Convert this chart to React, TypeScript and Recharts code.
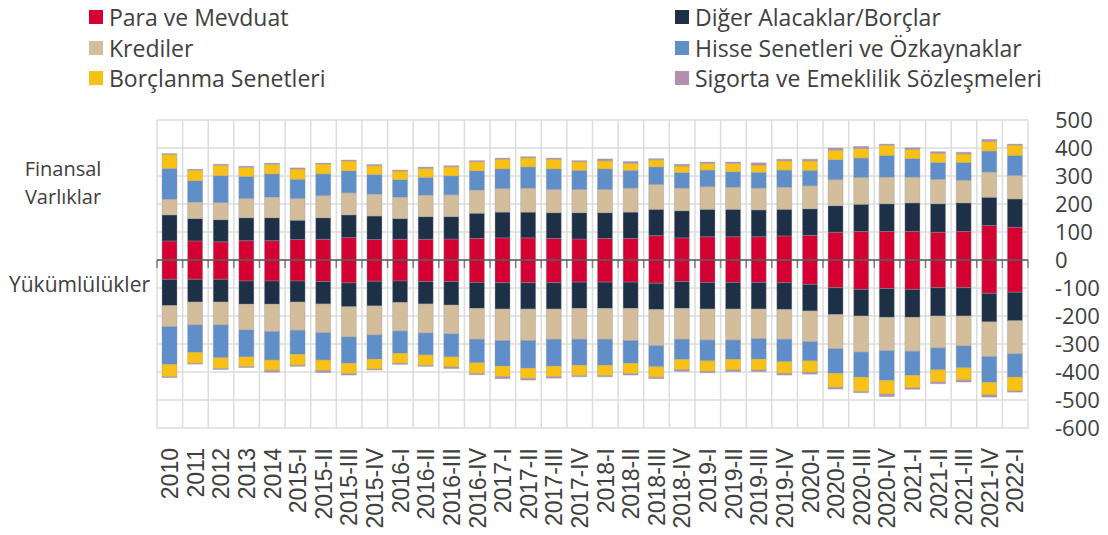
import React from "react";
import { BarChart, Bar, XAxis, YAxis, CartesianGrid, ReferenceLine } from "recharts";

const categories = [
  "2010", "2011", "2012", "2013", "2014", "2015-I", "2015-II", "2015-III", "2015-IV",
  "2016-I", "2016-II", "2016-III", "2016-IV", "2017-I", "2017-II", "2017-III", "2017-IV",
  "2018-I", "2018-II", "2018-III", "2018-IV", "2019-I", "2019-II", "2019-III", "2019-IV",
  "2020-I", "2020-II", "2020-III", "2020-IV", "2021-I", "2021-II", "2021-III", "2021-IV", "2022-I",
];

// Finansal varlıklar (positive)
const assetPara = [68, 68, 65, 69, 69, 73, 74, 80, 73, 74, 74, 75, 77, 79, 79, 77, 75, 77, 77, 87, 79, 83, 83, 83, 86, 88, 99, 102, 102, 102, 99, 102, 123, 117];
const assetDiger = [93, 80, 79, 82, 82, 69, 77, 81, 84, 74, 81, 80, 90, 92, 92, 92, 94, 92, 94, 94, 97, 98, 98, 96, 95, 95, 95, 97, 99, 102, 102, 102, 101, 101];
const assetKredi = [56, 59, 61, 69, 74, 78, 79, 79, 78, 77, 77, 78, 83, 84, 86, 83, 83, 83, 86, 89, 81, 81, 79, 78, 79, 82, 93, 96, 95, 92, 87, 81, 90, 84];
const assetHisse = [110, 76, 96, 78, 82, 68, 77, 78, 70, 62, 63, 67, 68, 70, 75, 73, 68, 73, 63, 62, 55, 59, 55, 56, 61, 55, 71, 69, 77, 66, 60, 63, 75, 71];
const assetBorc = [50, 38, 37, 33, 35, 37, 36, 36, 32, 31, 32, 33, 33, 35, 33, 35, 31, 29, 25, 26, 24, 24, 30, 26, 33, 34, 34, 34, 37, 33, 33, 31, 34, 37];
const assetSigorta = [3, 3, 4, 4, 4, 4, 3, 3, 4, 3, 5, 4, 4, 4, 4, 4, 4, 7, 7, 4, 6, 5, 5, 8, 6, 6, 8, 8, 4, 6, 6, 6, 8, 4];

// Yükümlülükler (negative)
const liabPara = [-69, -69, -69, -75, -75, -75, -77, -82, -76, -75, -77, -77, -80, -81, -81, -81, -79, -79, -79, -83, -77, -80, -80, -80, -81, -87, -99, -105, -102, -105, -99, -99, -119, -115];
const liabDiger = [-94, -81, -81, -83, -83, -75, -80, -85, -88, -77, -80, -84, -93, -94, -94, -94, -94, -94, -94, -94, -96, -95, -95, -95, -96, -95, -96, -95, -103, -100, -101, -101, -102, -102];
const liabKredi = [-75, -82, -82, -92, -98, -101, -103, -108, -104, -102, -104, -103, -110, -113, -113, -108, -110, -110, -115, -129, -110, -111, -111, -106, -106, -110, -122, -129, -119, -121, -114, -107, -124, -118];
const liabHisse = [-135, -98, -117, -96, -101, -86, -97, -94, -86, -79, -78, -82, -84, -91, -98, -96, -93, -93, -81, -75, -72, -74, -69, -73, -80, -68, -88, -89, -106, -86, -78, -78, -92, -83];
const liabBorc = [-44, -39, -39, -35, -37, -39, -38, -37, -36, -36, -38, -36, -38, -38, -37, -38, -37, -37, -37, -38, -37, -38, -38, -39, -42, -41, -50, -52, -49, -45, -44, -44, -45, -50];
const liabSigorta = [-3, -3, -3, -3, -7, -4, -7, -5, -3, -4, -3, -6, -5, -7, -6, -5, -4, -4, -5, -5, -6, -5, -6, -6, -6, -7, -6, -4, -9, -5, -6, -7, -8, -4];

const yTicks = [500, 400, 300, 200, 100, 0, -100, -200, -300, -400, -500, -600];

const COLORS = {
  para: "#d50032",
  diger: "#1d3045",
  kredi: "#d4bd9a",
  hisse: "#5f8ec8",
  borc: "#f9c113",
  sigorta: "#b48fb0",
};

const data = categories.map((name, i) => ({
  name,
  aPara: assetPara[i],
  aDiger: assetDiger[i],
  aKredi: assetKredi[i],
  aHisse: assetHisse[i],
  aBorc: assetBorc[i],
  aSig: assetSigorta[i],
  lPara: liabPara[i],
  lDiger: liabDiger[i],
  lKredi: liabKredi[i],
  lHisse: liabHisse[i],
  lBorc: liabBorc[i],
  lSig: liabSigorta[i],
}));

const series = [
  { key: "aPara", color: COLORS.para },
  { key: "aDiger", color: COLORS.diger },
  { key: "aKredi", color: COLORS.kredi },
  { key: "aHisse", color: COLORS.hisse },
  { key: "aBorc", color: COLORS.borc },
  { key: "aSig", color: COLORS.sigorta },
  { key: "lPara", color: COLORS.para },
  { key: "lDiger", color: COLORS.diger },
  { key: "lKredi", color: COLORS.kredi },
  { key: "lHisse", color: COLORS.hisse },
  { key: "lBorc", color: COLORS.borc },
  { key: "lSig", color: COLORS.sigorta },
];

const legendLeft = [
  { label: "Para ve Mevduat", color: COLORS.para },
  { label: "Krediler", color: COLORS.kredi },
  { label: "Borçlanma Senetleri", color: COLORS.borc },
];
const legendRight = [
  { label: "Diğer Alacaklar/Borçlar", color: COLORS.diger },
  { label: "Hisse Senetleri ve Özkaynaklar", color: COLORS.hisse },
  { label: "Sigorta ve Emeklilik Sözleşmeleri", color: COLORS.sigorta },
];

const textColor = "#404040";
const font = "'Open Sans', sans-serif";

function LegendColumn({ items, left }: { items: { label: string; color: string }[]; left: number }) {
  return (
    <>
      {items.map((it, i) => (
        <div
          key={it.label}
          style={{
            position: "absolute",
            left,
            top: 2 + i * 30.5,
            height: 30,
            display: "flex",
            alignItems: "center",
            fontFamily: font,
            fontSize: 23,
            color: textColor,
            whiteSpace: "nowrap",
          }}
        >
          <span style={{ width: 14, height: 14, background: it.color, marginRight: 6, display: "inline-block" }} />
          {it.label}
        </div>
      ))}
    </>
  );
}

const XTick = (props: any) => {
  const { x, y, payload } = props;
  return (
    <text
      transform={`translate(${x},${y}) rotate(-90)`}
      textAnchor="end"
      dy="0.36em"
      fontFamily="'Liberation Sans', Arial, sans-serif"
      fontSize={23}
      fill={textColor}
    >
      {payload.value}
    </text>
  );
};

const ZeroLine = (props: any) => {
  const { x1, y1, x2, y2 } = props;
  const n = categories.length;
  const step = (x2 - x1) / n;
  return (
    <g>
      {Array.from({ length: n + 1 }, (_, i) => (
        <line key={i} x1={x1 + i * step} x2={x1 + i * step} y1={y1} y2={y1 + 8} stroke="#7f7f7f" strokeWidth={1.5} />
      ))}
      <line x1={x1} y1={y1} x2={x2} y2={y2} stroke="#595959" strokeWidth={1.5} />
    </g>
  );
};

export default function App() {
  return (
    <div style={{ position: "absolute", left: 0, top: 0, width: 1108, height: 535, background: "#fff" }}>
      <LegendColumn items={legendLeft} left={89} />
      <LegendColumn items={legendRight} left={675} />
      <div style={{ position: "absolute", left: 0, width: 126, top: 155, textAlign: "center", fontFamily: font, fontSize: 20, color: textColor, lineHeight: "28px" }}>
        Finansal
        <br />
        Varlıklar
      </div>
      <div style={{ position: "absolute", left: 9, top: 270, fontFamily: font, fontSize: 21, color: textColor, lineHeight: "28px" }}>
        Yükümlülükler
      </div>
      <div style={{ position: "absolute", left: 0, top: 0 }}>
        <BarChart
          width={1108}
          height={535}
          data={data}
          stackOffset="sign"
          barSize={15}
          margin={{ top: 120, left: 157, right: 10, bottom: 7 }}
        >
          <CartesianGrid
            stroke="#dcdcdc"
            strokeWidth={1.5}
            verticalCoordinatesGenerator={(p: any) => {
              const o = p.offset;
              const n = categories.length;
              return Array.from({ length: n + 1 }, (_, i) => o.left + (i * o.width) / n);
            }}
          />
          <XAxis
            dataKey="name"
            interval={0}
            height={100}
            axisLine={false}
            tickLine={false}
            tickSize={0}
            tickMargin={20}
            tick={<XTick />}
          />
          <YAxis
            orientation="right"
            width={70}
            domain={[-600, 500]}
            ticks={yTicks}
            interval={0}
            axisLine={false}
            tickLine={false}
            tickSize={0}
            tickMargin={27}
            tick={{ fill: textColor, fontSize: 22, fontFamily: font, textAnchor: "start" }}
          />
          {series.map((s) => (
            <Bar
              key={s.key}
              dataKey={s.key}
              stackId="s"
              fill={s.color}
              stroke="#8f9aa6"
              strokeOpacity={0.35}
              strokeWidth={1}
              isAnimationActive={false}
            />
          ))}
          <ReferenceLine y={0} shape={ZeroLine} />
        </BarChart>
      </div>
    </div>
  );
}
